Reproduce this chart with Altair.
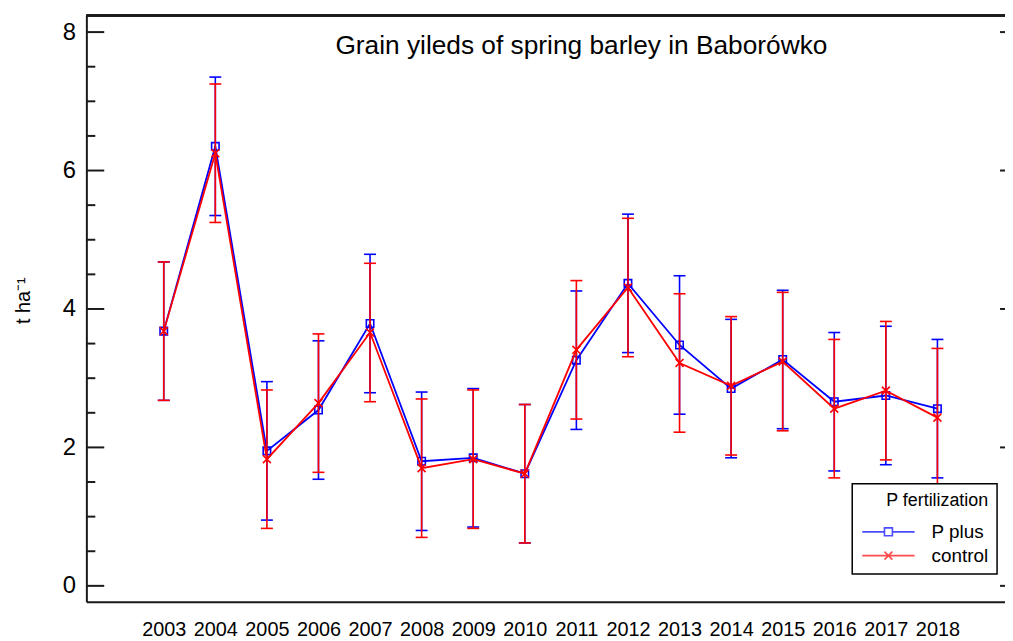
import altair as alt
import pandas as pd

# ---- data ----
years = [2003, 2004, 2005, 2006, 2007, 2008, 2009, 2010,
         2011, 2012, 2013, 2014, 2015, 2016, 2017, 2018]
p_plus = [3.68, 6.35, 1.95, 2.54, 3.79, 1.80, 1.85, 1.62,
          3.26, 4.37, 3.48, 2.85, 3.27, 2.66, 2.75, 2.56]
control = [3.68, 6.25, 1.83, 2.64, 3.66, 1.70, 1.83, 1.62,
           3.41, 4.31, 3.22, 2.89, 3.24, 2.56, 2.82, 2.43]
p_plus_err = [1.00, 1.00, 1.00, 1.00, 1.00, 1.00, 1.00, 1.00,
              1.00, 1.00, 1.00, 1.00, 1.00, 1.00, 1.00, 1.00]
control_err = [1.00, 1.00, 1.00, 1.00, 1.00, 1.00, 1.00, 1.00,
               1.00, 1.00, 1.00, 1.00, 1.00, 1.00, 1.00, 1.00]
series_names = ["P plus", "control"]
y_major = [0, 2, 4, 6, 8]
y_minor = [0.5, 1, 1.5, 2.5, 3, 3.5, 4.5, 5, 5.5, 6.5, 7, 7.5]

TITLE = "Grain yileds of spring barley in Baborówko"
Y_TITLE = "t ha⁻¹"
LEGEND_TITLE = "P fertilization"

# ---- styling ----
W, H = 926, 591
FONT = "Liberation Sans"
BLUE = "#0000ff"
RED = "#ff0000"
AXIS_COLOR = "#1a1a1a"

x_scale = alt.Scale(domain=[2001.5, 2019.31], nice=False, zero=False)
y_scale = alt.Scale(domain=[-0.23, 8.24], nice=False, zero=False)

x_axis = alt.Axis(values=years, format="d", title=None, ticks=False, grid=False,
                  domain=True, domainColor=AXIS_COLOR, domainWidth=2,
                  labelFont=FONT, labelFontSize=20, labelColor="black",
                  labelPadding=18, labelOverlap=False)
y_axis = alt.Axis(values=y_major, format="d", title=Y_TITLE, ticks=False, grid=False,
                  domain=True, domainColor=AXIS_COLOR, domainWidth=2,
                  labelFont=FONT, labelFontSize=24, labelColor="black",
                  labelPadding=11,
                  titleFont=FONT, titleFontSize=20, titleFontWeight="normal",
                  titleColor="black", titleAngle=270, titleX=-63, titleY=287,
                  titleAlign="center", titleBaseline="middle")


def X(field):
    return alt.X(f"{field}:Q", scale=x_scale, axis=x_axis)


def Y(field):
    return alt.Y(f"{field}:Q", scale=y_scale, axis=y_axis)


def frame(value, err):
    return pd.DataFrame({
        "year": years,
        "value": value,
        "lo": [v - e for v, e in zip(value, err)],
        "hi": [v + e for v, e in zip(value, err)],
    })


def series_layers(df, color, shape, size):
    base = alt.Chart(df)
    bar = base.mark_rule(color=color, strokeWidth=1.6).encode(
        x=X("year"), y=Y("lo"), y2="hi")
    cap_hi = base.mark_rule(color=color, strokeWidth=1.6, xOffset=-6, x2Offset=6).encode(
        x=X("year"), x2="year", y=Y("hi"))
    cap_lo = base.mark_rule(color=color, strokeWidth=1.6, xOffset=-6, x2Offset=6).encode(
        x=X("year"), x2="year", y=Y("lo"))
    line = base.mark_line(color=color, strokeWidth=1.8).encode(
        x=X("year"), y=Y("value"))
    pts = base.mark_point(shape=shape, filled=False, color=color, size=size,
                          strokeWidth=1.6, opacity=1).encode(
        x=X("year"), y=Y("value"))
    return [bar, cap_hi, cap_lo, line, pts]


df_p = frame(p_plus, p_plus_err)
df_c = frame(control, control_err)

CROSS = "M-1,-1L1,1M-1,1L1,-1"
LEG_BLUE = "M-6.6,0H-1M1,0H6.6M-1,-1H1V1H-1Z"
LEG_RED = "M-6.6,0H6.6M-1,-1L1,1M-1,1L1,-1"

layers_p = series_layers(df_p, BLUE, "square", 56)
layers_c = series_layers(df_c, RED, CROSS, 64)

# axis ticks (inward) and frame
major_df = pd.DataFrame({"t": y_major})
minor_df = pd.DataFrame({"t": y_minor})
tick_major = alt.Chart(major_df).mark_rule(color=AXIS_COLOR, strokeWidth=2).encode(
    x=alt.value(0), x2=alt.value(18), y=Y("t"))
tick_minor = alt.Chart(minor_df).mark_rule(color=AXIS_COLOR, strokeWidth=2).encode(
    x=alt.value(0), x2=alt.value(9), y=Y("t"))
tick_right = alt.Chart(major_df).mark_rule(color=AXIS_COLOR, strokeWidth=2).encode(
    x=alt.value(W - 5), x2=alt.value(W), y=Y("t"))
top_border = alt.Chart(major_df).mark_rule(color=AXIS_COLOR, strokeWidth=2).encode(
    x=alt.value(0), x2=alt.value(W), y=alt.value(0))

# legend carrier (no visible points)
leg_df = pd.DataFrame({"series": series_names, "year": [None, None], "value": [None, None]})
legend = alt.Legend(title=LEGEND_TITLE, orient="none", legendX=772, legendY=472,
                    direction="vertical", fillColor="white", strokeColor="black",
                    padding=8, cornerRadius=0,
                    titleFont=FONT, titleFontSize=18, titleFontWeight="normal",
                    titleColor="black", titleAnchor="end", titlePadding=13,
                    labelFont=FONT, labelFontSize=19, labelColor="black",
                    labelOffset=34, symbolOffset=19, symbolSize=64,
                    symbolStrokeWidth=1.6, rowPadding=4)
legend_layer = alt.Chart(leg_df).mark_point(filled=False, strokeWidth=1.6).encode(
    x=X("year"), y=Y("value"),
    color=alt.Color("series:N", scale=alt.Scale(domain=series_names, range=[BLUE, RED]),
                    legend=legend),
    shape=alt.Shape("series:N", scale=alt.Scale(domain=series_names, range=[LEG_BLUE, LEG_RED]),
                    legend=legend),
)

chart = alt.layer(
    tick_major, tick_minor, tick_right, top_border,
    *layers_p, *layers_c, legend_layer
).properties(
    width=W, height=H,
    title=alt.TitleParams(text=TITLE, font=FONT, fontSize=26.5, fontWeight="normal",
                          color="black", anchor="middle", frame="group",
                          baseline="alphabetic", offset=0, dx=36, dy=66),
    autosize=alt.AutoSizeParams(type="none"),
    padding={"left": 79, "top": 5, "right": 0, "bottom": 37},
).configure_view(stroke=None).configure(background="white").configure_legend(strokeWidth=1.5)

chart.save("out.html", embed_options={"renderer": "svg", "actions": False})
